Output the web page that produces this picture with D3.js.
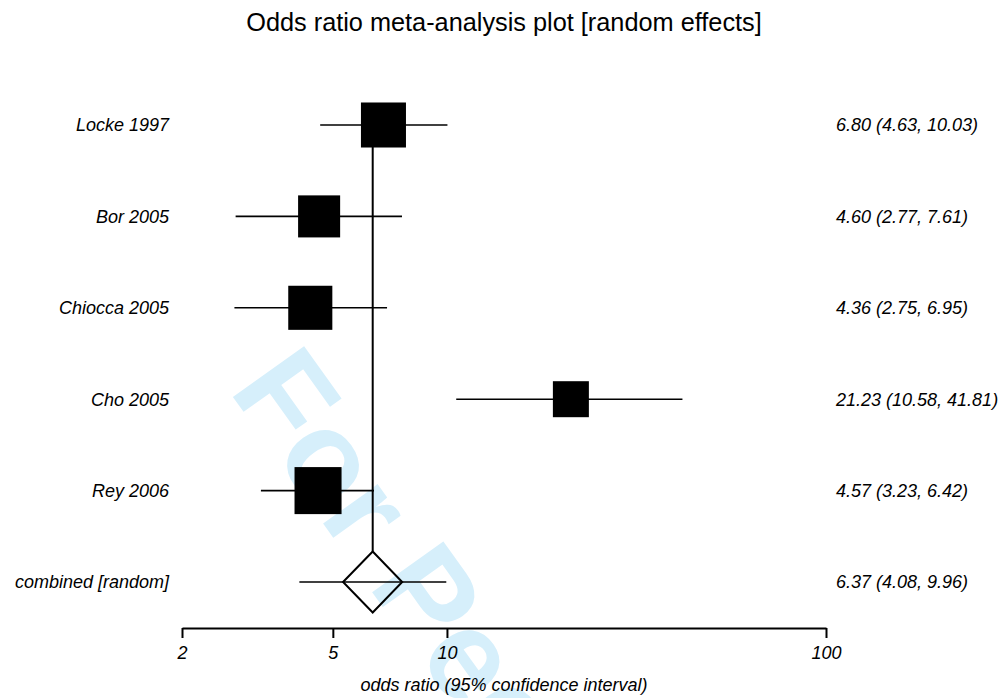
<!DOCTYPE html>
<html>
<head>
<meta charset="utf-8">
<script src="https://cdn.jsdelivr.net/npm/d3@7"></script>
<style>
  body { margin: 0; background: #fff; }
  text { font-family: "Liberation Sans", Arial, Helvetica, sans-serif; }
</style>
</head>
<body>
<div class="chart"></div>
<script>
// study rows
const studies = ['Locke 1997', 'Bor 2005', 'Chiocca 2005', 'Cho 2005', 'Rey 2006']
const oddsRatio = [6.80, 4.60, 4.36, 21.23, 4.57]
const lowerCI = [4.63, 2.77, 2.75, 10.58, 3.23]
const upperCI = [10.03, 7.61, 6.95, 41.81, 6.42]
// box weights (%)
const weights = [21.9, 19.1, 21.0, 14.0, 23.9]

// pooled row
const pooledLabel = 'combined [random]'
const pooled = [6.37, 4.08, 9.96]
const pooledDiamond = [5.32, 7.62]

const xTicks = [2, 5, 10, 100]

const width = 1005
const height = 698

const svg = d3.select('.chart')
  .append('svg')
  .attr('width', width)
  .attr('height', height)

const x = d3.scaleLog()
  .domain([2, 100])
  .range([182, 826])

const y = d3.scalePoint()
  .domain([...studies, pooledLabel])
  .range([125, 582])

const box = d3.scaleSqrt()
  .domain([0, 25])
  .range([0, 48.1])

// watermark
svg.append('text')
  .attr('transform', 'translate(228,390) rotate(54.5)')
  .attr('fill', '#d6effb')
  .attr('font-weight', 'bold')
  .attr('font-size', 127)
  .text('For Peer Review')

svg.append('text')
  .attr('x', 504)
  .attr('y', 31)
  .attr('text-anchor', 'middle')
  .attr('font-size', 25.3)
  .text('Odds ratio meta-analysis plot [random effects]')

const rows = studies.map((s, i) => ({
  name: s, or: oddsRatio[i], lo: lowerCI[i], hi: upperCI[i], w: weights[i]
}))

const halfDiamond = 30.5

// pooled estimate reference line
svg.append('line')
  .attr('x1', x(pooled[0]))
  .attr('x2', x(pooled[0]))
  .attr('y1', y(studies[0]))
  .attr('y2', y(pooledLabel) - halfDiamond)
  .attr('stroke', '#000')
  .attr('stroke-width', 2)

svg.selectAll('.ci')
  .data(rows)
  .enter()
  .append('line')
  .attr('class', 'ci')
  .attr('x1', d => x(d.lo))
  .attr('x2', d => x(d.hi))
  .attr('y1', d => y(d.name))
  .attr('y2', d => y(d.name))
  .attr('stroke', '#000')
  .attr('stroke-width', 1.6)

svg.selectAll('.box')
  .data(rows)
  .enter()
  .append('rect')
  .attr('class', 'box')
  .attr('x', d => x(d.or) - box(d.w) / 2)
  .attr('y', d => y(d.name) - box(d.w) / 2)
  .attr('width', d => box(d.w))
  .attr('height', d => box(d.w))
  .attr('fill', '#000')

// pooled ci + diamond
const py = y(pooledLabel)
svg.append('line')
  .attr('x1', x(pooled[1]))
  .attr('x2', x(pooled[2]))
  .attr('y1', py)
  .attr('y2', py)
  .attr('stroke', '#000')
  .attr('stroke-width', 1.6)

svg.append('path')
  .attr('d', d3.line()([
    [x(pooledDiamond[0]), py],
    [x(pooled[0]), py - halfDiamond],
    [x(pooledDiamond[1]), py],
    [x(pooled[0]), py + halfDiamond]
  ]) + 'Z')
  .attr('fill', 'none')
  .attr('stroke', '#000')
  .attr('stroke-width', 2)

// labels
const allNames = [...studies, pooledLabel]
const allValues = [...rows.map(d => [d.or, d.lo, d.hi]), pooled]
const fmt = d3.format('.2f')

svg.selectAll('.name')
  .data(allNames)
  .enter()
  .append('text')
  .attr('class', 'name')
  .attr('x', 169)
  .attr('y', d => y(d))
  .attr('dy', '0.36em')
  .attr('text-anchor', 'end')
  .attr('font-size', 18)
  .attr('font-style', 'italic')
  .text(d => d)

svg.selectAll('.value')
  .data(allValues)
  .enter()
  .append('text')
  .attr('class', 'value')
  .attr('x', 836)
  .attr('y', (d, i) => y(allNames[i]))
  .attr('dy', '0.36em')
  .attr('font-size', 18)
  .attr('font-style', 'italic')
  .text(d => `${fmt(d[0])} (${fmt(d[1])}, ${fmt(d[2])})`)

// axis
const xAxis = d3.axisBottom(x)
  .tickValues(xTicks)
  .tickFormat(d3.format('d'))
  .tickSizeInner(10)
  .tickSizeOuter(0)
  .tickPadding(8)

const axisG = svg.append('g')
  .attr('transform', 'translate(0,628)')
  .call(xAxis)

axisG.select('.domain').attr('stroke-width', 2)
axisG.selectAll('.tick line').attr('stroke-width', 2)
axisG.selectAll('.tick text')
  .attr('font-family', '"Liberation Sans", Arial, sans-serif')
  .attr('font-size', 18)
  .attr('font-style', 'italic')
  .attr('fill', '#000')

svg.append('text')
  .attr('x', 504)
  .attr('y', 691)
  .attr('text-anchor', 'middle')
  .attr('font-size', 18)
  .attr('font-style', 'italic')
  .text('odds ratio (95% confidence interval)')
</script>
</body>
</html>
